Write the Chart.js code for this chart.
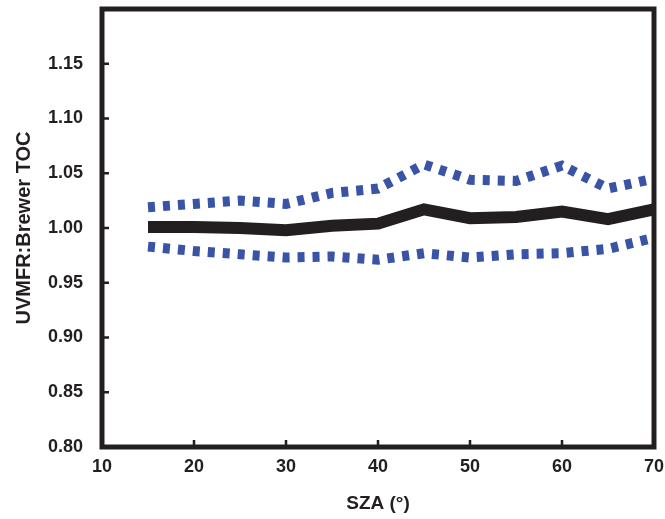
<!DOCTYPE html>
<html lang="en">
<head>
<meta charset="UTF-8" />
<script src="https://cdn.jsdelivr.net/npm/chart.js"></script>
<title>UVMFR:Brewer TOC</title>
<style>
  html, body { margin: 0; padding: 0; background: #fff; }
  #wrap { width: 665px; height: 519px; }
</style>
</head>
<body>
<div id="wrap"><canvas id="chart"></canvas></div>
<script>
  // solar zenith angle (deg)
  const sza = [15, 20, 25, 30, 35, 40, 45, 50, 55, 60, 65, 70];
  // ratio and the band around it
  const ratio = [1.001, 1.001, 1.000, 0.998, 1.002, 1.004, 1.017, 1.009, 1.010, 1.015, 1.008, 1.017];
  const upper = [1.019, 1.022, 1.025, 1.022, 1.032, 1.036, 1.058, 1.044, 1.043, 1.057, 1.036, 1.045];
  const lower = [0.983, 0.979, 0.976, 0.973, 0.974, 0.971, 0.977, 0.973, 0.976, 0.977, 0.981, 0.991];

  const xTicks = [10, 20, 30, 40, 50, 60, 70];
  const yTicks = [0.80, 0.85, 0.90, 0.95, 1.00, 1.05, 1.10, 1.15];

  const ink = "#231f20";
  const blue = "#3953a6";
  const font = "'Liberation Sans', Arial, sans-serif";

  const toPoints = (vals) => vals.map((v, i) => ({ x: sza[i], y: v }));

  // box round the plot and short ticks pointing inwards
  const framePlugin = {
    id: "frame",
    afterDatasetsDraw(chart) {
      const { ctx, chartArea: a, scales } = chart;
      ctx.save();
      ctx.strokeStyle = ink;
      ctx.lineWidth = 2.5;
      ctx.beginPath();
      xTicks.slice(1, -1).forEach((t) => {
        const px = scales.x.getPixelForValue(t);
        ctx.moveTo(px, a.bottom);
        ctx.lineTo(px, a.bottom - 7);
      });
      yTicks.slice(1).forEach((t) => {
        const py = scales.y.getPixelForValue(t);
        ctx.moveTo(a.left, py);
        ctx.lineTo(a.left + 7, py);
      });
      ctx.stroke();
      ctx.lineWidth = 5;
      ctx.strokeRect(a.left, a.top, a.right - a.left, a.bottom - a.top);
      ctx.restore();
    },
  };

  new Chart(document.getElementById("chart"), {
    type: "line",
    data: {
      datasets: [
        {
          data: toPoints(upper),
          borderColor: blue,
          borderWidth: 10,
          borderDash: [7, 8],
          pointRadius: 0,
          tension: 0,
        },
        {
          data: toPoints(lower),
          borderColor: blue,
          borderWidth: 10,
          borderDash: [7, 8],
          pointRadius: 0,
          tension: 0,
        },
        {
          data: toPoints(ratio),
          borderColor: ink,
          borderWidth: 12,
          pointRadius: 0,
          tension: 0,
        },
      ],
    },
    options: {
      animation: false,
      responsive: true,
      maintainAspectRatio: false,
      layout: { padding: { top: 9, right: 11, left: 0, bottom: 0 } },
      plugins: { legend: { display: false }, tooltip: { enabled: false } },
      scales: {
        x: {
          type: "linear",
          min: 10,
          max: 70,
          grid: { display: false, drawTicks: false },
          border: { display: false },
          afterBuildTicks: (s) => { s.ticks = xTicks.map((v) => ({ value: v })); },
          afterFit: (s) => {
            s.height = 72;
            s.paddingLeft = 0;
            s.paddingRight = 0;
          },
          ticks: {
            padding: 9,
            color: ink,
            maxRotation: 0,
            font: { family: font, size: 18, weight: "bold" },
          },
          title: {
            display: true,
            text: "SZA (°)",
            color: ink,
            padding: { top: 0, bottom: 4 },
            font: { family: font, size: 19, weight: "bold" },
          },
        },
        y: {
          min: 0.8,
          max: 1.2,
          grid: { display: false, drawTicks: false },
          border: { display: false },
          afterBuildTicks: (s) => { s.ticks = yTicks.map((v) => ({ value: v })); },
          afterFit: (s) => {
            s.width = 102;
            s.paddingTop = 0;
            s.paddingBottom = 0;
          },
          ticks: {
            padding: 19,
            color: ink,
            font: { family: font, size: 18, weight: "bold" },
            callback: (v) => Number(v).toFixed(2),
          },
          title: {
            display: true,
            text: "UVMFR:Brewer TOC",
            color: ink,
            padding: { top: 12, bottom: 0 },
            font: { family: font, size: 20, weight: "bold" },
          },
        },
      },
    },
    plugins: [framePlugin],
  });
</script>
</body>
</html>
